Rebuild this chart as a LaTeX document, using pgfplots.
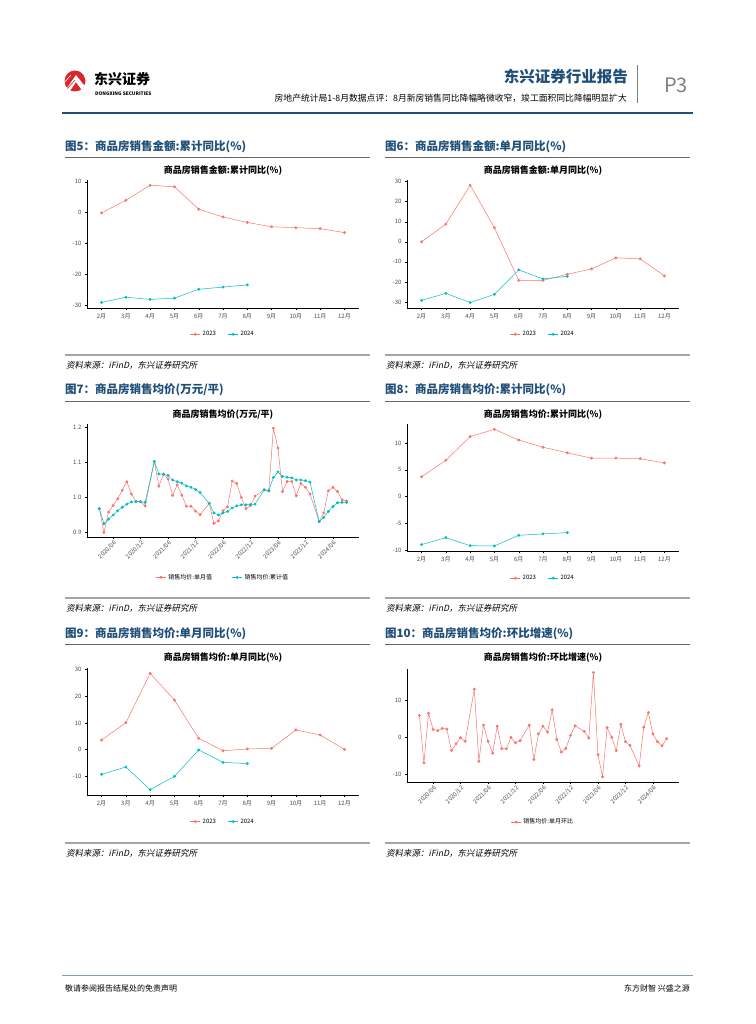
\documentclass[border=0pt]{standalone}
\usepackage{fontspec}
\setmainfont{Noto Sans CJK SC}
\newfontfamily\cjkit{Noto Sans CJK SC}[FakeSlant=0.2]
\usepackage{pgfplots}
\pgfplotsset{compat=1.18}

\definecolor{ggred}{HTML}{F8766D}
\definecolor{ggcyan}{HTML}{00BFC4}
\definecolor{hdblue}{HTML}{1F4E79}
\definecolor{tickgray}{HTML}{4D4D4D}
\definecolor{rulegray}{HTML}{7F7F7F}
\definecolor{logored}{HTML}{D9262B}

\pgfplotsset{
  gg/.style={
    scale only axis,
    axis lines=left,
    axis line style={-, black, line width=0.8pt},
    tick style={black, line width=0.4pt},
    tick align=outside,
    major tick length=2pt,
    ticklabel style={font=\fontsize{6}{7}\selectfont, text=tickgray},
    /pgf/number format/assume math mode=true,
    every axis plot/.append style={line width=0.5pt, mark=*, mark size=1.2pt},
    legend style={draw=none, fill=none, font=\fontsize{6}{7}\selectfont,
      /tikz/every even column/.append style={column sep=10pt}},
    legend columns=-1,
    legend image code/.code={\draw[mark repeat=2,mark phase=2,##1]
      plot coordinates {(0pt,0pt)(5pt,0pt)(10pt,0pt)};},
  },
  months/.style={
    gg,
    xmin=-0.6, xmax=10.6,
    xtick={0,...,10},
    xticklabels={2月,3月,4月,5月,6月,7月,8月,9月,10月,11月,12月},
  },
  dates/.style={
    gg,
    xmin=-0.7, xmax=58.7,
    xtick={5,11,17,23,29,35,41,47,53},
    xticklabels={2020/06,2020/12,2021/06,2021/12,2022/06,2022/12,2023/06,2023/12,2024/06},
    xticklabel style={rotate=45, anchor=north east, inner sep=0.5pt},
  },
}

\pgfplotstableread{
x    single cum
2    0.968  0.968
3    0.900  0.925
4    0.958  0.938
5    0.977  0.950
6    0.996  0.962
7    1.021  0.972
8    1.045  0.981
9    1.010  0.987
10   0.988  0.988
11   0.988  0.988
12   0.976  0.986
14   1.103  1.103
15   1.032  1.067
16   1.067  1.066
17   1.053  1.063
18   1.006  1.050
19   1.036  1.045
20   1.007  1.041
21   0.975  1.033
22   0.975  1.029
23   0.961  1.023
24   0.951  1.014
26   0.983  0.983
27   0.926  0.956
28   0.933  0.950
29   0.962  0.956
30   0.973  0.960
31   1.047  0.970
32   1.040  0.976
33   1.000  0.979
34   0.968  0.979
35   0.977  0.980
36   1.004  0.981
38   1.022  1.022
39   1.018  1.020
40   1.198  1.057
41   1.141  1.073
42   1.017  1.060
43   1.046  1.058
44   1.046  1.056
45   1.005  1.050
46   1.040  1.050
47   1.029  1.048
48   1.010  1.044
50   0.931  0.931
51   0.956  0.943
52   1.019  0.960
53   1.029  0.974
54   1.017  0.985
55   0.993  0.986
56   0.990  0.986
}\pricetable

\pgfplotstableread{
x    mom
2    6.0
3    -6.8
4    6.6
5    2.2
6    1.9
7    2.5
8    2.3
9    -3.5
10   -1.7
11   0.0
12   -1.0
14   13.1
15   -6.4
16   3.4
17   -1.0
18   -4.2
19   3.1
20   -3.0
21   -3.0
22   0.1
23   -1.4
24   -0.8
26   3.4
27   -5.9
28   1.0
29   3.1
30   1.5
31   7.5
32   -0.5
33   -3.9
34   -2.9
35   0.6
36   3.2
38   1.7
39   -0.1
40   17.6
41   -4.6
42   -10.6
43   2.7
44   0.1
45   -3.5
46   3.6
47   -1.1
48   -2.1
50   -7.7
51   2.8
52   6.8
53   1.0
54   -1.1
55   -2.2
56   -0.3
}\momtable

\begin{document}
\begin{tikzpicture}
\path[use as bounding box] (0,0) rectangle (755pt,-1024pt);
\fill[white] (0,0) rectangle (755pt,-1024pt);

% header
\begin{scope}
  \clip (75pt,-81pt) circle (10.5pt);
  \fill[logored] (75pt,-81pt) circle (10.5pt);
  \fill[white] (65pt,-91pt) -- (76pt,-75pt) -- (87pt,-89pt) -- (81pt,-89pt) -- (76pt,-82pt) -- (70pt,-91pt) -- cycle;
  \draw[logored, line width=0.6pt] (66pt,-86pt) -- (73pt,-78pt);
  \draw[logored, line width=0.6pt] (67pt,-89pt) -- (75pt,-80pt);
  \draw[white, line width=0.6pt] (63pt,-84pt) -- (71pt,-75pt);
\end{scope}
\node[anchor=west, inner sep=0, font=\fontsize{14}{14}\selectfont\bfseries] at (94pt,-79pt) {东兴证券};
\node[anchor=west, inner sep=0, font=\fontsize{4.8}{5}\selectfont\bfseries] at (95pt,-94pt) {DONGXING SECURITIES};
\node[anchor=east, inner sep=0, font=\fontsize{15.5}{16}\selectfont\bfseries, text=hdblue] at (628pt,-77pt) {东兴证券行业报告};
\draw[rulegray, line width=1pt] (637pt,-65pt) -- (637pt,-103pt);
\node[anchor=west, inner sep=0, font=\fontsize{20}{20}\selectfont, text=rulegray] at (664pt,-85pt) {P3};
\node[anchor=east, inner sep=0, font=\fontsize{8.8}{9}\selectfont] at (627pt,-98pt) {房地产统计局1-8月数据点评：8月新房销售同比降幅略微收窄，竣工面积同比降幅明显扩大};
\draw[hdblue, line width=2.5pt] (62pt,-113pt) -- (693pt,-113pt);

% headings and rules
\foreach \xa/\ya/\yb/\yc/\txt in {
  65/147/157/355/{图5：商品房销售金额:累计同比(\%)},
  385/147/157/355/{图6：商品房销售金额:单月同比(\%)},
  65/390/401/598/{图7：商品房销售均价(万元/平)},
  385/390/401/598/{图8：商品房销售均价:累计同比(\%)},
  65/634/644/843/{图9：商品房销售均价:单月同比(\%)},
  385/634/644/843/{图10：商品房销售均价:环比增速(\%)}} {
  \node[anchor=west, inner sep=0, font=\fontsize{11.5}{12}\selectfont\bfseries, text=hdblue] at (\xa pt,-\ya pt) {\txt};
  \draw[rulegray!80!black, line width=0.9pt] (\xa pt,-\yb pt) -- (\xa pt+305pt,-\yb pt);
  \draw[rulegray!70, line width=1.3pt] (\xa pt,-\yc pt) -- (\xa pt+305pt,-\yc pt);
  \node[anchor=west, inner sep=0, font=\cjkit\fontsize{8.5}{9}\selectfont] at (\xa pt+1pt,-\yc pt-10pt) {资料来源：iFinD，东兴证券研究所};
}

% plot titles
\foreach \xc/\yt/\txt in {
  223/171/{商品房销售金额:累计同比(\%)},
  543/171/{商品房销售金额:单月同比(\%)},
  223/415/{商品房销售均价(万元/平)},
  543/415/{商品房销售均价:累计同比(\%)},
  223/658/{商品房销售均价:单月同比(\%)},
  543/658/{商品房销售均价:环比增速(\%)}} {
  \node[inner sep=0, font=\fontsize{9}{10}\selectfont\bfseries] at (\xc pt,-\yt pt) {\txt};
}

% Fig 5
\begin{axis}[months, at={(87pt,-308pt)}, anchor=south west, width=272pt, height=128pt,
  ymin=-31, ymax=10.6, ytick={-30,-20,-10,0,10},
  legend style={at={(0.5,-0.205)}, anchor=center}]
\addplot[ggred] coordinates {(0,-0.1) (1,4.0) (2,8.9) (3,8.4) (4,1.1) (5,-1.4) (6,-3.2) (7,-4.6) (8,-4.9) (9,-5.2) (10,-6.5)};
\addplot[ggcyan] coordinates {(0,-29.2) (1,-27.5) (2,-28.2) (3,-27.8) (4,-24.9) (5,-24.2) (6,-23.5)};
\legend{2023,2024}
\end{axis}

% Fig 6
\begin{axis}[months, at={(407pt,-308pt)}, anchor=south west, width=272pt, height=128pt,
  ymin=-33, ymax=30.8, ytick={-30,-20,...,30},
  legend style={at={(0.5,-0.205)}, anchor=center}]
\addplot[ggred] coordinates {(0,0) (1,8.8) (2,28.2) (3,7.0) (4,-19.2) (5,-19.2) (6,-16.2) (7,-13.5) (8,-8.0) (9,-8.5) (10,-17.0)};
\addplot[ggcyan] coordinates {(0,-29.2) (1,-25.7) (2,-30.3) (3,-26.2) (4,-14.0) (5,-18.5) (6,-17.2)};
\legend{2023,2024}
\end{axis}

% Fig 7
\begin{axis}[dates, at={(87pt,-537pt)}, anchor=south west, width=272pt, height=113pt,
  ymin=0.887, ymax=1.21, ytick={0.9,1.0,1.1,1.2},
  yticklabel style={/pgf/number format/.cd, fixed, fixed zerofill, precision=1},
  legend style={at={(0.5,-0.357)}, anchor=center,
    /tikz/every even column/.append style={column sep=18pt}}]
\addplot[ggred] table[x=x, y=single] {\pricetable};
\addplot[ggcyan] table[x=x, y=cum] {\pricetable};
\legend{销售均价:单月值,销售均价:累计值}
\end{axis}

% Fig 8
\begin{axis}[months, at={(407pt,-551pt)}, anchor=south west, width=272pt, height=127pt,
  ymin=-10.2, ymax=13.6, ytick={-10,-5,0,5,10},
  legend style={at={(0.5,-0.214)}, anchor=center}]
\addplot[ggred] coordinates {(0,3.7) (1,6.8) (2,11.25) (3,12.6) (4,10.6) (5,9.25) (6,8.2) (7,7.2) (8,7.2) (9,7.1) (10,6.3)};
\addplot[ggcyan] coordinates {(0,-9.0) (1,-7.7) (2,-9.2) (3,-9.25) (4,-7.25) (5,-7.0) (6,-6.75)};
\legend{2023,2024}
\end{axis}

% Fig 9
\begin{axis}[months, at={(87pt,-795pt)}, anchor=south west, width=272pt, height=127pt,
  ymin=-17, ymax=30.6, ytick={-10,0,10,20,30},
  legend style={at={(0.5,-0.21)}, anchor=center}]
\addplot[ggred] coordinates {(0,3.6) (1,10.1) (2,28.6) (3,18.6) (4,4.25) (5,-0.4) (6,0.25) (7,0.5) (8,7.4) (9,5.5) (10,0.1)};
\addplot[ggcyan] coordinates {(0,-9.25) (1,-6.5) (2,-15.0) (3,-10.0) (4,-0.1) (5,-4.75) (6,-5.25)};
\legend{2023,2024}
\end{axis}

% Fig 10
\begin{axis}[dates, at={(407pt,-782pt)}, anchor=south west, width=272pt, height=113.5pt,
  ymin=-12, ymax=18.7, ytick={-10,0,10},
  legend style={at={(0.5,-0.353)}, anchor=center}]
\addplot[ggred] table[x=x, y=mom] {\momtable};
\legend{销售均价:单月环比}
\end{axis}

% footer
\draw[hdblue!55, line width=1pt] (62pt,-975pt) -- (693pt,-975pt);
\node[anchor=west, inner sep=0, font=\fontsize{8}{9}\selectfont] at (65pt,-988pt) {敬请参阅报告结尾处的免责声明};
\node[anchor=east, inner sep=0, font=\fontsize{8}{9}\selectfont] at (690pt,-988pt) {东方财智\ 兴盛之源};
\end{tikzpicture}
\end{document}
